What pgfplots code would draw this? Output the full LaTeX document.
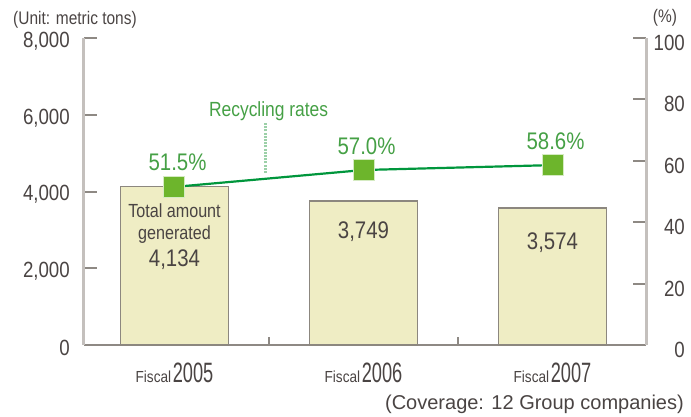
\documentclass[border=0pt]{standalone}
\usepackage{fontspec}
\setmainfont{Liberation Sans}[FakeStretch=0.85]
\newfontfamily\narrowfont{Liberation Sans}[FakeStretch=0.65]
\newfontfamily\plainfont{Liberation Sans}
\usepackage{pgfplots}
\pgfplotsset{compat=1.18}

\definecolor{barfill}{HTML}{EFEDC4}
\definecolor{barline}{HTML}{8C877F}
\definecolor{axisgray}{HTML}{C4C0BD}
\definecolor{basegray}{HTML}{8E8984}
\definecolor{linegreen}{HTML}{00963C}
\definecolor{markgreen}{HTML}{6DB52C}
\definecolor{markborder}{HTML}{D5EBC2}
\definecolor{textgreen}{HTML}{45A045}
\definecolor{leadergreen}{HTML}{9CD0A8}
\definecolor{labelgray}{HTML}{4A4443}

\newcommand{\fiscal}[1]{{\fontsize{16}{16}\selectfont Fiscal}\,{\narrowfont\fontsize{28}{28}\selectfont #1}}

\begin{document}
\begin{tikzpicture}
\useasboundingbox (-84pt,-71pt) rectangle (607pt,345pt);

% amounts (left axis)
\begin{axis}[
  scale only axis, width=562pt, height=307pt,
  xmin=-0.4788, xmax=2.4947, ymin=0, ymax=8000,
  axis x line=bottom, axis y line=left,
  x axis line style={draw=basegray, line width=2pt, -},
  y axis line style={draw=axisgray, line width=3pt, -},
  tick align=inside, major tick length=13pt,
  ytick={0,2000,...,8000},
  ytick style={draw=basegray, line width=2pt},
  scaled y ticks=false,
  /pgf/number format/1000 sep={,},
  /pgf/number format/assume math mode=true,
  yticklabel style={anchor=east, inner sep=0pt, xshift=-14pt, yshift=-3pt,
    font=\fontsize{22}{24}\selectfont, text=labelgray},
  xtick={0,1,2},
  xticklabels={\fiscal{2005},\fiscal{2006},\fiscal{2007}},
  xtick style={draw=none},
  xticklabel style={yshift=-14pt, text=labelgray},
  extra x ticks={0.5,1.5}, extra x tick labels={},
  extra x tick style={major tick length=8pt, xtick style={draw=basegray, line width=2pt}},
  clip=false,
]
\addplot[ybar, bar width=108pt, fill=barfill, draw=barline, line width=1.5pt]
  coordinates {(0,4134)(1,3749)(2,3574)};
\node[font=\fontsize{19}{22}\selectfont, text=labelgray, align=center]
  at (axis cs:0,4134) [yshift=-37pt] {Total amount\\generated};
\node[font=\fontsize{24}{24}\selectfont, text=labelgray] at (axis cs:0,4134) [yshift=-73pt] {4,134};
\node[font=\fontsize{24}{24}\selectfont, text=labelgray] at (axis cs:1,3749) [yshift=-31pt] {3,749};
\node[font=\fontsize{24}{24}\selectfont, text=labelgray] at (axis cs:2,3574) [yshift=-35pt] {3,574};
\end{axis}

% recycling rates (right axis)
\begin{axis}[
  scale only axis, width=562pt, height=307pt,
  xmin=-0.4788, xmax=2.4947, ymin=0, ymax=100,
  axis x line=none, axis y line=right,
  y axis line style={draw=axisgray, line width=3pt, -},
  tick align=inside, major tick length=13pt,
  ytick={0,20,...,100},
  ytick style={draw=basegray, line width=2pt},
  /pgf/number format/assume math mode=true,
  yticklabel style={anchor=east, inner sep=0pt, xshift=39pt, yshift=-5pt,
    font=\fontsize{22}{24}\selectfont, text=labelgray},
  clip=false,
]
\draw[leadergreen, line width=3pt, dash pattern=on 2pt off 1.2pt]
  (axis cs:0.484,56) -- (axis cs:0.484,72.3);
\node[font=\fontsize{20.5}{22}\selectfont, text=textgreen] at (axis cs:0.498,76.3) {Recycling rates};
\addplot[color=linegreen, line width=2.2pt, mark=square*, mark size=10.5pt,
  mark options={fill=markgreen, draw=markborder, line width=1pt}]
  coordinates {(0,51.5)(1,57.0)(2,58.6)};
\node[font=\fontsize{24}{24}\selectfont, text=textgreen] at (axis cs:0,51.5) [xshift=3pt, yshift=25pt] {51.5\%};
\node[font=\fontsize{24}{24}\selectfont, text=textgreen] at (axis cs:1,57.0) [xshift=3pt, yshift=24pt] {57.0\%};
\node[font=\fontsize{24}{24}\selectfont, text=textgreen] at (axis cs:2,58.6) [xshift=3pt, yshift=24pt] {58.6\%};
\end{axis}

\node[anchor=west, inner sep=0pt, font=\fontsize{18.2}{20}\selectfont, text=labelgray] at (-71pt,325pt) {(Unit: metric tons)};
\node[inner sep=0pt, font=\fontsize{18.2}{20}\selectfont, text=labelgray] at (581pt,327pt) {(\%)};
\node[anchor=east, inner sep=0pt, font=\plainfont\fontsize{20}{22}\selectfont, text=labelgray] at (600pt,-59pt) {(Coverage: 12 Group companies)};
\end{tikzpicture}
\end{document}
